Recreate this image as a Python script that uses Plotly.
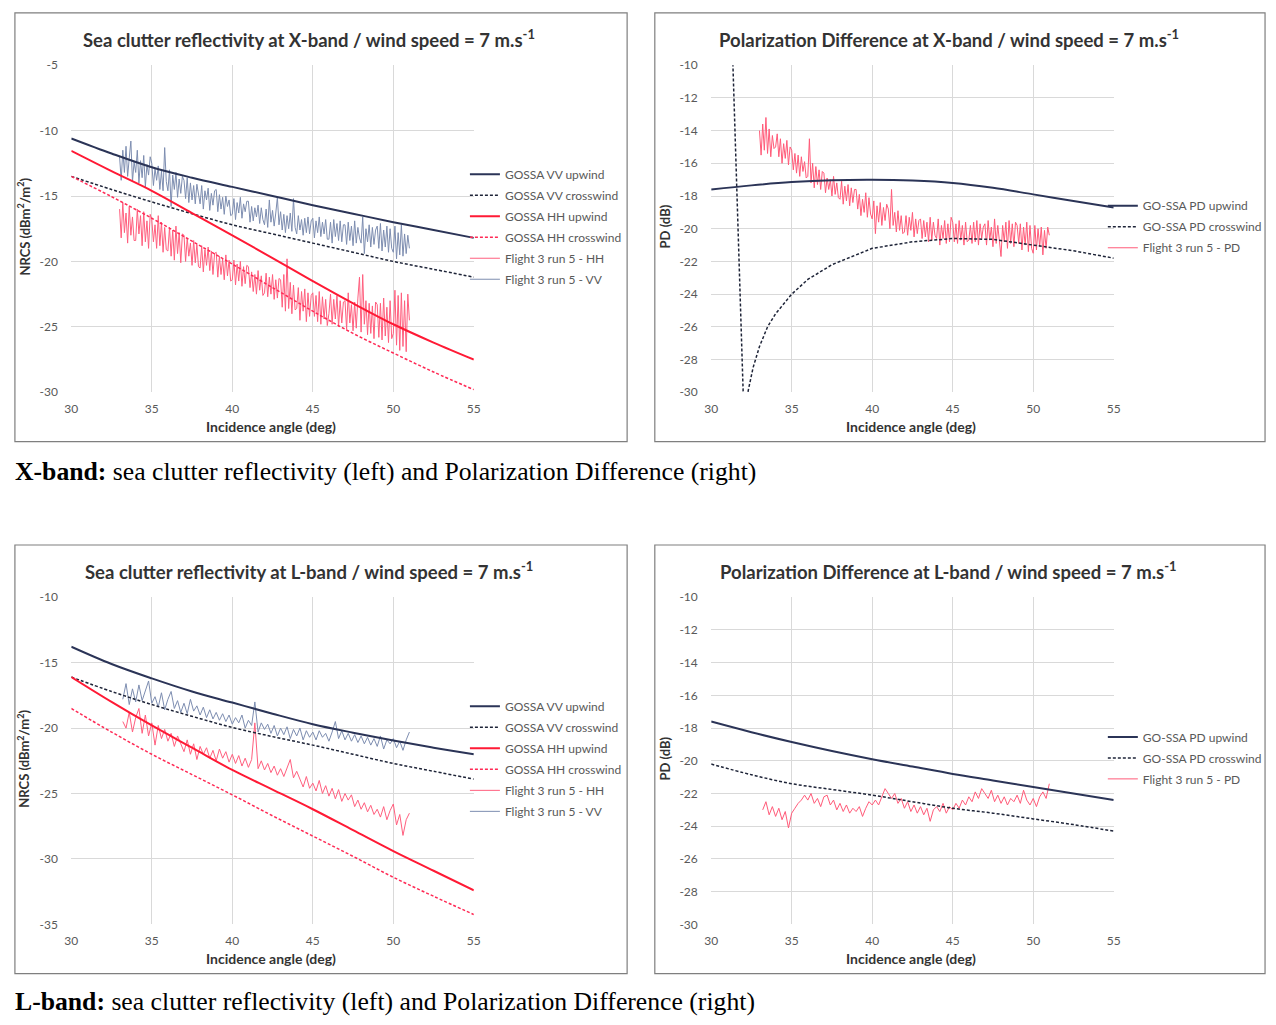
import plotly.graph_objects as go

W, H = 1276, 1025

# ---------------- data ----------------
MODEL_ANGLE = [30, 32.5, 35, 37.5, 40, 42.5, 45, 47.5, 50, 52.5, 55]
X_TICKS = [30, 35, 40, 45, 50, 55]

# X-band NRCS models
X_VV_UP = [-10.6, -11.75, -12.8, -13.6, -14.3, -15.0, -15.7, -16.35, -17.0, -17.6, -18.2]
X_VV_CROSS = [-13.5, -14.5, -15.45, -16.35, -17.2, -17.9, -18.6, -19.3, -20.0, -20.6, -21.2]
X_HH_UP = [-11.55, -13.1, -14.6, -16.3, -18.0, -19.75, -21.5, -23.2, -24.8, -26.2, -27.5]
X_HH_CROSS = [-13.5, -15.05, -16.7, -18.45, -20.2, -22.0, -23.8, -25.5, -27.0, -28.45, -29.8]

# X-band PD models
X_PD_UP = [-17.6, -17.35, -17.15, -17.03, -17.0, -17.05, -17.2, -17.5, -17.9, -18.3, -18.7]
X_PD_CROSS_ANGLE = [30.5, 31.0, 31.35, 31.6, 31.85, 32.05, 32.3, 32.6, 33.0, 33.5, 34.0, 35.0,
                    36.0, 37.5, 40.0, 42.5, 45.0, 47.5, 50.0, 52.5, 55.0]
X_PD_CROSS = [-2.0, -6.0, -10.0, -18.0, -26.0, -32.0, -29.9, -28.5, -27.2, -26.0, -25.2, -24.0,
              -23.1, -22.2, -21.2, -20.8, -20.6, -20.65, -21.0, -21.35, -21.8]

# L-band NRCS models
L_VV_UP = [-13.78, -15.1, -16.2, -17.2, -18.05, -18.9, -19.7, -20.35, -20.95, -21.5, -22.0]
L_VV_CROSS = [-16.1, -17.2, -18.2, -19.1, -19.95, -20.65, -21.3, -22.0, -22.7, -23.3, -23.9]
L_HH_UP = [-16.1, -18.0, -19.8, -21.5, -23.2, -24.7, -26.2, -27.8, -29.4, -30.9, -32.4]
L_HH_CROSS = [-18.5, -20.3, -22.0, -23.55, -25.1, -26.7, -28.25, -29.8, -31.4, -32.85, -34.25]

# L-band PD models
L_PD_UP = [-17.6, -18.25, -18.85, -19.4, -19.9, -20.35, -20.8, -21.2, -21.6, -22.0, -22.4]
L_PD_CROSS = [-20.2, -20.85, -21.4, -21.75, -22.1, -22.5, -22.9, -23.2, -23.55, -23.9, -24.3]

# Flight 3 run 5 measurements (X-band: 33.0..51.0 step 0.1; L-band: 33.2..51.0 step 0.2)
X_FLIGHT_ANGLE = [round(33.0 + 0.1 * i, 1) for i in range(181)]
L_FLIGHT_ANGLE = [round(33.2 + 0.2 * i, 1) for i in range(90)]

X_FLIGHT_VV = [
    -12.0, -13.8, -11.5, -13.2, -11.2, -13.5, -12.1, -10.8, -13.9, -12.4,
    -13.2, -11.5, -14.0, -12.3, -13.6, -11.9, -14.3, -12.6, -13.4, -12.0,
    -12.5, -14.2, -12.9, -13.8, -12.7, -14.5, -13.1, -14.6, -11.3, -13.9,
    -14.6, -13.0, -15.8, -13.4, -14.5, -13.2, -15.1, -13.7, -14.8, -13.5,
    -13.8, -15.2, -13.6, -15.5, -14.0, -15.3, -14.2, -15.6, -14.1, -15.0,
    -15.6, -14.2, -16.0, -14.6, -15.3, -14.4, -16.1, -14.8, -15.7, -14.6,
    -14.5, -16.2, -14.9, -16.0, -15.1, -16.4, -15.0, -15.8, -15.3, -16.5,
    -16.4, -15.2, -16.8, -15.5, -16.3, -15.1, -16.7, -15.6, -16.2, -15.4,
    -15.4, -17.0, -15.8, -16.9, -15.9, -16.6, -15.7, -17.1, -15.9, -16.8,
    -17.2, -16.0, -17.4, -15.3, -17.0, -16.1, -17.3, -16.3, -15.1, -17.2,
    -16.2, -17.6, -16.4, -17.8, -16.5, -17.5, -16.3, -17.7, -15.2, -17.4,
    -17.9, -16.5, -17.6, -16.8, -18.0, -16.7, -17.8, -16.6, -17.9, -16.9,
    -16.7, -18.2, -16.9, -17.8, -16.6, -18.1, -17.0, -17.9, -16.8, -18.3,
    -18.3, -17.0, -18.6, -16.8, -18.1, -17.1, -18.4, -16.9, -18.5, -17.2,
    -17.2, -18.7, -17.0, -18.4, -17.3, -18.8, -16.9, -18.6, -17.4, -18.2,
    -18.6, -16.6, -19.4, -17.5, -18.5, -17.2, -18.9, -17.4, -18.7, -17.6,
    -17.3, -19.0, -17.1, -19.2, -17.6, -18.9, -17.3, -19.3, -17.5, -19.0,
    -19.3, -17.3, -19.8, -17.8, -19.5, -17.2, -19.6, -17.9, -19.4, -18.0,
    -19.0]

X_FLIGHT_HH = [
    -16.0, -18.2, -15.5, -17.8, -16.3, -18.6, -15.8, -18.0, -16.6, -18.4,
    -18.4, -16.0, -17.9, -16.5, -18.8, -16.2, -18.5, -16.9, -19.0, -16.4,
    -16.8, -18.5, -17.2, -19.0, -16.5, -18.8, -17.0, -19.3, -17.4, -19.1,
    -19.2, -17.4, -19.6, -17.6, -19.9, -17.3, -19.4, -17.8, -20.1, -17.9,
    -18.0, -20.0, -18.2, -19.6, -18.6, -20.3, -18.4, -20.1, -18.7, -20.4,
    -20.5, -18.8, -20.8, -19.1, -20.3, -18.9, -20.7, -19.2, -21.0, -19.4,
    -19.3, -21.2, -19.6, -21.0, -19.8, -21.4, -19.5, -21.1, -19.9, -21.5,
    -21.4, -19.9, -21.8, -20.2, -21.5, -20.0, -21.9, -20.4, -21.7, -20.3,
    -20.4, -22.0, -20.8, -22.3, -21.0, -22.5, -20.7, -22.2, -21.1, -22.6,
    -22.4, -20.9, -22.7, -21.2, -22.5, -21.0, -22.9, -21.4, -22.8, -21.3,
    -21.4, -23.5, -21.0, -23.8, -19.8, -23.6, -21.6, -24.0, -21.8, -23.7,
    -23.6, -22.0, -24.5, -22.3, -23.8, -22.1, -24.6, -22.4, -24.2, -22.6,
    -22.4, -24.2, -22.6, -24.6, -22.3, -24.8, -22.7, -24.4, -22.9, -24.9,
    -24.0, -22.5, -24.8, -22.9, -24.4, -22.6, -25.0, -23.0, -24.7, -23.1,
    -23.0, -25.2, -22.4, -24.7, -23.3, -25.3, -23.1, -25.1, -22.8, -21.2,
    -25.4, -21.0, -24.8, -23.0, -25.6, -23.2, -25.5, -23.4, -25.9, -23.1,
    -23.3, -25.8, -23.2, -26.0, -22.8, -25.7, -23.5, -26.2, -23.0, -25.9,
    -25.5, -22.2, -26.4, -22.6, -26.8, -22.4, -26.5, -23.0, -26.9, -22.5,
    -24.5]

X_FLIGHT_PD = [
    -14.0, -15.5, -13.6, -15.2, -13.2, -15.4, -13.9, -15.6, -14.3, -15.1,
    -15.0, -14.2, -15.6, -14.5, -16.0, -14.8, -15.7, -14.6, -16.1, -15.0,
    -15.2, -16.4, -15.4, -16.6, -15.5, -16.8, -15.6, -16.5, -15.9, -16.9,
    -16.8, -14.5, -17.2, -16.0, -17.5, -16.2, -17.3, -16.4, -17.6, -16.5,
    -16.6, -17.8, -16.9, -17.6, -17.0, -18.0, -16.8, -17.9, -17.2, -18.1,
    -18.2, -17.1, -18.5, -17.4, -18.3, -17.3, -18.6, -17.5, -18.4, -17.6,
    -17.6, -18.8, -17.9, -19.2, -18.2, -19.0, -17.8, -19.3, -18.1, -19.1,
    -19.4, -18.3, -20.3, -18.6, -19.6, -18.4, -19.8, -18.7, -19.5, -18.5,
    -18.8, -20.0, -17.6, -19.8, -19.0, -20.2, -18.9, -20.1, -19.2, -20.3,
    -20.2, -19.2, -20.4, -19.3, -20.1, -19.0, -20.5, -19.4, -20.3, -19.5,
    -19.4, -20.6, -19.5, -20.5, -19.6, -20.8, -19.3, -20.7, -19.6, -20.4,
    -20.6, -19.4, -21.0, -19.8, -20.6, -19.5, -20.9, -19.7, -20.8, -19.3,
    -19.6, -20.8, -19.7, -20.9, -19.5, -20.7, -19.8, -21.0, -19.6, -20.8,
    -20.7, -19.8, -20.9, -19.6, -20.8, -19.5, -21.0, -19.7, -20.6, -19.9,
    -19.7, -21.0, -19.5, -20.7, -19.9, -21.1, -19.4, -20.9, -19.8, -21.0,
    -21.7, -19.8, -20.8, -19.6, -21.2, -19.5, -20.9, -19.7, -21.1, -19.6,
    -19.8, -20.9, -19.7, -21.3, -19.9, -21.0, -19.6, -21.4, -19.8, -21.2,
    -21.5, -19.8, -21.3, -20.0, -21.1, -19.9, -21.6, -20.1, -21.2, -19.9,
    -20.4]

L_FLIGHT_VV = [
    -17.8, -16.6, -18.2, -17.0, -18.0,
    -16.7, -17.9, -17.2, -16.4, -18.1,
    -17.6, -18.4, -17.3, -18.6, -17.8,
    -17.2, -18.5, -17.9, -18.8, -18.1,
    -18.9, -17.8, -18.7, -18.3, -19.0,
    -18.4, -19.2, -18.6, -19.3, -18.8,
    -19.4, -18.9, -19.5, -19.0, -19.7,
    -19.2, -19.6, -19.0, -20.0, -19.4,
    -19.8, -18.0, -20.3, -19.6, -20.1,
    -19.7, -20.4, -19.8, -20.6, -20.0,
    -20.5, -19.9, -20.8, -20.1, -20.6,
    -20.0, -20.9, -20.2, -20.7, -20.3,
    -20.9, -20.2, -20.7, -20.4, -21.0,
    -20.3, -19.5, -20.8, -20.2, -20.9,
    -20.4, -21.0, -20.5, -21.1, -20.6,
    -21.2, -20.7, -21.3, -20.8, -21.4,
    -20.6, -21.6, -20.9, -21.2, -20.8,
    -21.5, -21.0, -21.7, -20.9, -20.3]

L_FLIGHT_HH = [
    -19.5, -20.0, -18.8, -20.3, -19.2,
    -18.5, -20.4, -19.0, -20.6, -19.6,
    -21.3, -19.8, -20.8, -20.1, -21.0,
    -20.4, -21.4, -20.6, -21.2, -21.8,
    -20.9, -22.0, -21.2, -22.4, -21.4,
    -22.0, -21.5, -22.3, -21.7, -22.5,
    -21.6, -22.3, -21.8, -22.6, -22.0,
    -22.7, -22.1, -22.9, -22.3, -23.0,
    -22.4, -19.6, -23.1, -22.5, -23.2,
    -22.7, -23.4, -22.9, -23.6, -23.1,
    -23.7, -23.0, -22.4, -23.8, -23.3,
    -23.9, -24.5, -23.7, -24.6, -24.2,
    -24.8, -24.0, -25.0, -24.4, -25.2,
    -24.6, -25.4, -24.7, -25.6, -25.0,
    -25.5, -25.1, -26.0, -25.5, -26.2,
    -25.7, -26.4, -25.9, -26.6, -26.2,
    -26.8, -26.0, -27.0, -26.3, -25.8,
    -27.4, -26.6, -28.2, -27.0, -26.5]

L_FLIGHT_PD = [
    -23.0, -22.5, -23.3, -22.8, -23.4,
    -22.9, -23.6, -23.1, -24.1, -23.2,
    -22.9, -22.6, -22.4, -22.1, -22.4,
    -22.0, -22.6, -22.3, -22.8, -22.2,
    -22.1, -22.7, -22.4, -23.0, -22.6,
    -23.1, -22.7, -23.2, -22.9, -23.1,
    -22.8, -23.4, -22.9, -22.5, -22.7,
    -22.4, -22.7, -22.2, -21.7, -22.0,
    -22.3, -22.0, -22.6, -22.3, -22.9,
    -22.5, -23.1, -22.7, -23.2, -22.8,
    -23.3, -22.9, -23.7, -23.0, -22.8,
    -23.1, -22.6, -23.2, -22.8, -23.0,
    -22.6, -22.9, -22.4, -22.7, -22.2,
    -22.5, -21.9, -22.3, -21.7, -22.0,
    -22.3, -21.8, -22.5, -22.1, -22.6,
    -22.2, -22.7, -22.3, -22.5, -22.1,
    -22.6, -21.8, -22.4, -22.7, -22.3,
    -22.8, -22.2, -21.9, -22.3, -21.4]

Y_TICKS_X_NRCS = [-30, -25, -20, -15, -10, -5]
Y_TICKS_L_NRCS = [-35, -30, -25, -20, -15, -10]
Y_TICKS_PD = [-30, -28, -26, -24, -22, -20, -18, -16, -14, -12, -10]

NRCS_NAMES = ["GOSSA VV upwind", "GOSSA VV crosswind", "GOSSA HH upwind",
              "GOSSA HH crosswind", "Flight 3 run 5 - HH", "Flight 3 run 5 - VV"]
PD_NAMES = ["GO-SSA PD upwind", "GO-SSA PD crosswind", "Flight 3 run 5 - PD"]

# ---------------- styles ----------------
NAVY = "#2b3457"
NAVY_D = "#1e2438"
RED = "#ff1a35"
RED_D = "#ff2a55"
FL_HH = "#ff5f7e"
FL_VV = "#7d8db0"
FL_PD = "#ff5a78"
FONT = "Lato"
TICK_COL = "#595959"


def px(x):
    return x / W


def py(y):
    return 1 - y / H


fig = go.Figure()

panels = [
    ("", "legend", "nrcs", dict(flight_x=X_FLIGHT_ANGLE, hh=X_FLIGHT_HH, vv=X_FLIGHT_VV,
                                vvu=X_VV_UP, vvc=X_VV_CROSS, hhu=X_HH_UP, hhc=X_HH_CROSS)),
    ("2", "legend2", "pd", dict(flight_x=X_FLIGHT_ANGLE, pd=X_FLIGHT_PD, up=X_PD_UP,
                                cx=X_PD_CROSS_ANGLE, cross=X_PD_CROSS)),
    ("3", "legend3", "nrcs", dict(flight_x=L_FLIGHT_ANGLE, hh=L_FLIGHT_HH, vv=L_FLIGHT_VV,
                                  vvu=L_VV_UP, vvc=L_VV_CROSS, hhu=L_HH_UP, hhc=L_HH_CROSS)),
    ("4", "legend4", "pd", dict(flight_x=L_FLIGHT_ANGLE, pd=L_FLIGHT_PD, up=L_PD_UP,
                                cx=MODEL_ANGLE, cross=L_PD_CROSS)),
]

for suf, leg, kind, d in panels:
    xa, ya = "x" + suf, "y" + suf
    common = dict(xaxis=xa, yaxis=ya, legend=leg, mode="lines", hoverinfo="skip")
    if kind == "nrcs":
        fig.add_trace(go.Scatter(x=d["flight_x"], y=d["hh"], name=NRCS_NAMES[4], legendrank=5,
                                 legendgroup=leg + "e", line=dict(color=FL_HH, width=1), **common))
        fig.add_trace(go.Scatter(x=d["flight_x"], y=d["vv"], name=NRCS_NAMES[5], legendrank=6,
                                 legendgroup=leg + "f", line=dict(color=FL_VV, width=1), **common))
        fig.add_trace(go.Scatter(x=MODEL_ANGLE, y=d["vvu"], name=NRCS_NAMES[0], legendrank=1,
                                 legendgroup=leg + "a", line=dict(color=NAVY, width=2, shape="spline"), **common))
        fig.add_trace(go.Scatter(x=MODEL_ANGLE, y=d["vvc"], name=NRCS_NAMES[1], legendrank=2,
                                 legendgroup=leg + "b",
                                 line=dict(color=NAVY_D, width=1.5, shape="spline", dash="3px,2px"), **common))
        fig.add_trace(go.Scatter(x=MODEL_ANGLE, y=d["hhu"], name=NRCS_NAMES[2], legendrank=3,
                                 legendgroup=leg + "c", line=dict(color=RED, width=2, shape="spline"), **common))
        fig.add_trace(go.Scatter(x=MODEL_ANGLE, y=d["hhc"], name=NRCS_NAMES[3], legendrank=4,
                                 legendgroup=leg + "d",
                                 line=dict(color=RED_D, width=1.5, shape="spline", dash="3px,2px"), **common))
    else:
        fig.add_trace(go.Scatter(x=d["flight_x"], y=d["pd"], name=PD_NAMES[2], legendrank=3,
                                 legendgroup=leg + "c", line=dict(color=FL_PD, width=1), **common))
        fig.add_trace(go.Scatter(x=MODEL_ANGLE, y=d["up"], name=PD_NAMES[0], legendrank=1,
                                 legendgroup=leg + "a", line=dict(color=NAVY, width=2, shape="spline"), **common))
        fig.add_trace(go.Scatter(x=d["cx"], y=d["cross"], name=PD_NAMES[1], legendrank=2,
                                 legendgroup=leg + "b",
                                 line=dict(color=NAVY_D, width=1.5, dash="3px,2px",
                                           shape="spline" if suf == "4" else "linear"), **common))

# ---------------- axes ----------------
XDOM_L = [px(65), px(472)]
XDOM_R = [px(712), px(1119)]
YDOM_T = [py(390), py(58)]
YDOM_B = [py(930), py(598)]


def xaxis(domain, anchor):
    return dict(domain=domain, anchor=anchor, range=[30, 55], tickvals=X_TICKS,
                ticktext=[str(t) for t in X_TICKS], showgrid=True, gridcolor="#d9d9d9",
                gridwidth=1, zeroline=False, showline=False, ticks="outside", ticklen=5,
                tickcolor="rgba(0,0,0,0)",
                tickfont=dict(family=FONT, size=12, color=TICK_COL), fixedrange=True)


def yaxis(domain, anchor, rng, ticks):
    return dict(domain=domain, anchor=anchor, range=rng, tickvals=ticks,
                ticktext=["-" + str(abs(t)) for t in ticks], showgrid=True, gridcolor="#d9d9d9",
                gridwidth=1, zeroline=False, showline=False, ticks="outside", ticklen=10,
                tickcolor="rgba(0,0,0,0)",
                tickfont=dict(family=FONT, size=12, color=TICK_COL), fixedrange=True)


fig.update_layout(
    xaxis=xaxis(XDOM_L, "y"), yaxis=yaxis(YDOM_T, "x", [-30, -5], Y_TICKS_X_NRCS),
    xaxis2=xaxis(XDOM_R, "y2"), yaxis2=yaxis(YDOM_T, "x2", [-30, -10], Y_TICKS_PD),
    xaxis3=xaxis(XDOM_L, "y3"), yaxis3=yaxis(YDOM_B, "x3", [-35, -10], Y_TICKS_L_NRCS),
    xaxis4=xaxis(XDOM_R, "y4"), yaxis4=yaxis(YDOM_B, "x4", [-30, -10], Y_TICKS_PD),
)


# ---------------- legends ----------------
def legend(xpx, ypx):
    return dict(x=px(xpx), y=py(ypx), xanchor="left", yanchor="top", bgcolor="rgba(0,0,0,0)",
                font=dict(family=FONT, size=12, color=TICK_COL), tracegroupgap=2,
                itemwidth=30, borderwidth=0)


fig.update_layout(
    legend=legend(463, 154),
    legend2=legend(1108, 186),
    legend3=legend(463, 694),
    legend4=legend(1108, 725),
)

# ---------------- text ----------------
ann = []
TITLE_FONT = dict(family=FONT, size=18.5, color="#333333")
titles = [
    (305, 31, "<b>Sea clutter reflectivity at X-band / wind speed = 7 m.s<sup>-1</sup></b>"),
    (952, 31, "<b>Polarization Difference at X-band / wind speed = 7 m.s<sup>-1</sup></b>"),
    (305, 571, "<b>Sea clutter reflectivity at L-band / wind speed = 7 m.s<sup>-1</sup></b>"),
    (952, 571, "<b>Polarization Difference at L-band / wind speed = 7 m.s<sup>-1</sup></b>"),
]
for x, y, t in titles:
    ann.append(dict(x=px(x), y=py(y), xref="paper", yref="paper", text=t, showarrow=False,
                    xanchor="center", yanchor="middle", font=TITLE_FONT))

AX_FONT = dict(family=FONT, size=14, color="#333333")
for x, y in [(267, 425), (914, 425), (267, 965), (914, 965)]:
    ann.append(dict(x=px(x), y=py(y), xref="paper", yref="paper", text="<b>Incidence angle (deg)</b>",
                    showarrow=False, xanchor="center", yanchor="middle", font=AX_FONT))

for x, y, t in [(17, 222, "<b>NRCS (dBm<sup>2</sup>/m<sup>2</sup>)</b>"), (665, 222, "<b>PD (dB)</b>"),
                (17, 762, "<b>NRCS (dBm<sup>2</sup>/m<sup>2</sup>)</b>"), (665, 762, "<b>PD (dB)</b>")]:
    ann.append(dict(x=px(x), y=py(y), xref="paper", yref="paper", text=t, textangle=-90,
                    showarrow=False, xanchor="center", yanchor="middle",
                    font=dict(family=FONT, size=13, color="#333333")))

CAP_FONT = dict(family="Liberation Serif", size=25.7, color="#000000")
ann.append(dict(x=px(6), y=py(470), xref="paper", yref="paper", showarrow=False,
                xanchor="left", yanchor="middle", font=CAP_FONT,
                text="<b>X-band:</b> sea clutter reflectivity (left) and Polarization Difference (right)"))
ann.append(dict(x=px(6), y=py(1008), xref="paper", yref="paper", showarrow=False,
                xanchor="left", yanchor="middle", font=CAP_FONT,
                text="<b>L-band:</b> sea clutter reflectivity (left) and Polarization Difference (right)"))

shapes = []
for x0, y0, x1, y1 in [(8, 5, 627, 440), (655, 5, 1272, 440), (8, 545, 627, 980), (655, 545, 1272, 980)]:
    shapes.append(dict(type="rect", xref="paper", yref="paper", x0=px(x0), y0=py(y0), x1=px(x1), y1=py(y1),
                       line=dict(color="#7f7f7f", width=1.2), fillcolor="rgba(0,0,0,0)", layer="below"))

fig.update_layout(
    width=W, height=H, autosize=False, margin=dict(l=0, r=0, t=0, b=0, pad=0),
    paper_bgcolor="white", plot_bgcolor="white", annotations=ann, shapes=shapes,
    showlegend=True, font=dict(family=FONT),
)

fig.write_html("out.html", config={"displayModeBar": False},
               post_script="document.body.style.margin='0';document.body.style.overflow='hidden';")
